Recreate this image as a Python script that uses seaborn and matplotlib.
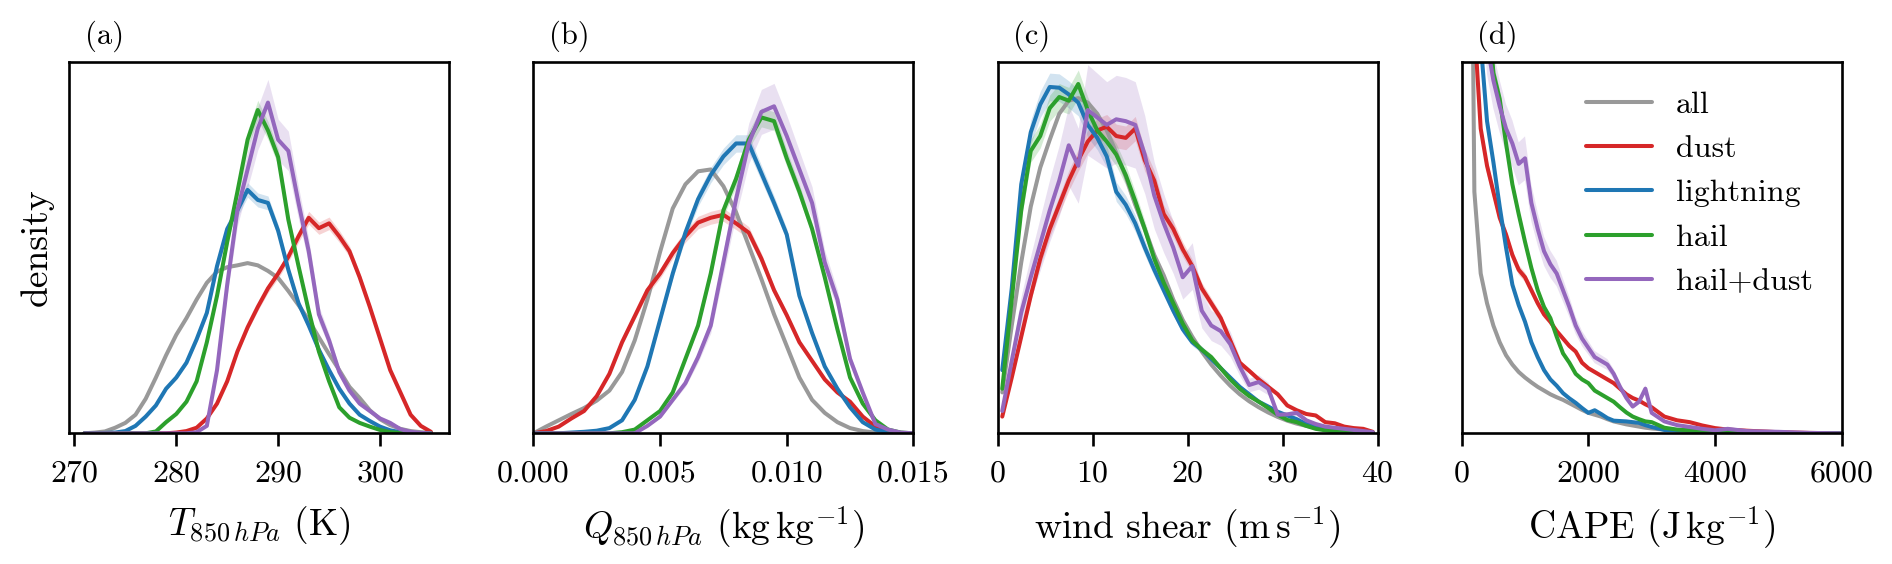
import numpy as np
import pandas as pd
import matplotlib
matplotlib.use("Agg")
import matplotlib.pyplot as plt
import seaborn as sns

# ---------------- data ----------------
series = ["all", "dust", "lightning", "hail", "hail+dust"]
colors = ["#999999", "#d62728", "#1f77b4", "#2ca02c", "#9467bd"]

# (a) T850 hPa (K)
t_grid = list(range(271, 306))
all_a = [0.0, 0.002, 0.005, 0.015, 0.028, 0.05, 0.093, 0.15, 0.21, 0.265, 0.31, 0.36, 0.405, 0.435,
         0.447, 0.452, 0.458, 0.452, 0.437, 0.418, 0.383, 0.345, 0.305, 0.258, 0.213, 0.17, 0.125,
         0.095, 0.062, 0.038, 0.022, 0.012, 0.006, 0.003, 0.001]
dust_a = [0, 0, 0, 0, 0, 0, 0, 0, 0, 0.002, 0.006, 0.015, 0.04, 0.08, 0.14, 0.22, 0.285, 0.34, 0.39,
          0.43, 0.475, 0.53, 0.58, 0.552, 0.565, 0.53, 0.49, 0.42, 0.34, 0.255, 0.17, 0.11, 0.05,
          0.02, 0.004]
lightning_a = [0, 0, 0.001, 0.002, 0.006, 0.02, 0.045, 0.075, 0.12, 0.15, 0.19, 0.253, 0.324, 0.45,
               0.55, 0.6, 0.655, 0.628, 0.62, 0.545, 0.44, 0.35, 0.29, 0.225, 0.17, 0.12, 0.08, 0.05,
               0.033, 0.018, 0.008, 0.003, 0.001, 0, 0]
hail_a = [0, 0, 0, 0, 0, 0, 0, 0.005, 0.03, 0.052, 0.085, 0.14, 0.245, 0.37, 0.515, 0.65, 0.79, 0.87,
          0.815, 0.743, 0.575, 0.45, 0.33, 0.22, 0.14, 0.07, 0.042, 0.028, 0.018, 0.009, 0.003, 0.001,
          0, 0, 0]
haildust_a = [0, 0, 0, 0, 0, 0, 0, 0, 0, 0, 0, 0.003, 0.02, 0.17, 0.40, 0.60, 0.71, 0.82, 0.89, 0.79,
              0.76, 0.62, 0.49, 0.32, 0.25, 0.165, 0.115, 0.08, 0.06, 0.04, 0.028, 0.011, 0.004,
              0.001, 0]
band_a = [0.0, 0.03, 0.03, 0.03, 0.07]

# (b) Q850 hPa (kg/kg)
q_grid = [0.0, 0.0005, 0.001, 0.0015, 0.002, 0.0025, 0.003, 0.0035, 0.004, 0.0045, 0.005, 0.0055,
          0.006, 0.0065, 0.007, 0.0075, 0.008, 0.0085, 0.009, 0.0095, 0.010, 0.0105, 0.011, 0.0115,
          0.012, 0.0125, 0.013, 0.0135, 0.014, 0.0145, 0.015]
all_b = [0, 0.018, 0.035, 0.052, 0.068, 0.088, 0.115, 0.165, 0.25, 0.36, 0.488, 0.605, 0.67, 0.705,
         0.71, 0.665, 0.595, 0.505, 0.415, 0.32, 0.235, 0.15, 0.09, 0.055, 0.03, 0.014, 0.006, 0.002,
         0, 0, 0]
dust_b = [0, 0.006, 0.018, 0.04, 0.06, 0.1, 0.16, 0.245, 0.315, 0.385, 0.43, 0.485, 0.53, 0.567, 0.58,
          0.588, 0.565, 0.54, 0.47, 0.385, 0.318, 0.245, 0.195, 0.145, 0.11, 0.085, 0.045, 0.018,
          0.005, 0.001, 0]
lightning_b = [0, 0, 0, 0.002, 0.004, 0.007, 0.014, 0.035, 0.09, 0.18, 0.305, 0.43, 0.54, 0.63, 0.695,
               0.745, 0.78, 0.78, 0.7, 0.62, 0.535, 0.37, 0.27, 0.18, 0.12, 0.07, 0.03, 0.01, 0.003,
               0, 0]
hail_b = [0, 0, 0, 0, 0, 0, 0, 0.003, 0.01, 0.035, 0.06, 0.11, 0.2, 0.29, 0.43, 0.6, 0.685, 0.79, 0.85,
          0.84, 0.74, 0.65, 0.55, 0.42, 0.28, 0.15, 0.08, 0.035, 0.01, 0.002, 0]
haildust_b = [0, 0, 0, 0, 0, 0, 0, 0, 0, 0.02, 0.045, 0.09, 0.135, 0.205, 0.29, 0.46, 0.63, 0.78,
              0.865, 0.88, 0.8, 0.71, 0.62, 0.46, 0.36, 0.2, 0.11, 0.025, 0.01, 0.002, 0]
band_b = [0.0, 0.03, 0.03, 0.03, 0.07]

# (c) wind shear (m/s)
w_grid = [0.5, 1.5, 2.5, 3.5, 4.5, 5.5, 6.5, 7.5, 8.5, 9.5, 10.5, 11.5, 12.5, 13.5, 14.5, 15.5, 16.5,
          17.5, 18.5, 19.5, 20.5, 21.5, 22.5, 23.5, 24.5, 25.5, 26.5, 27.5, 28.5, 29.5, 30.5, 31.5,
          32.5, 33.5, 34.5, 35.5, 36.5, 37.5, 38.5, 39.5]
all_c = [0.11, 0.29, 0.46, 0.61, 0.715, 0.79, 0.86, 0.895, 0.902, 0.89, 0.86, 0.815, 0.755, 0.69,
         0.615, 0.55, 0.48, 0.425, 0.36, 0.305, 0.26, 0.22, 0.185, 0.155, 0.128, 0.105, 0.086, 0.07,
         0.056, 0.044, 0.034, 0.026, 0.02, 0.015, 0.011, 0.008, 0.006, 0.004, 0.003, 0.002]
dust_c = [0.045, 0.15, 0.26, 0.37, 0.47, 0.55, 0.615, 0.68, 0.735, 0.785, 0.815, 0.825, 0.8, 0.795,
          0.82, 0.735, 0.68, 0.59, 0.55, 0.495, 0.45, 0.39, 0.35, 0.31, 0.25, 0.19, 0.168, 0.145,
          0.125, 0.105, 0.075, 0.062, 0.052, 0.048, 0.03, 0.027, 0.018, 0.014, 0.012, 0.004]
lightning_c = [0.17, 0.39, 0.67, 0.81, 0.885, 0.932, 0.93, 0.912, 0.89, 0.83, 0.795, 0.745, 0.65,
               0.615, 0.565, 0.5, 0.44, 0.385, 0.33, 0.28, 0.245, 0.225, 0.2, 0.175, 0.15, 0.125,
               0.105, 0.085, 0.072, 0.058, 0.048, 0.038, 0.025, 0.02, 0.015, 0.01, 0.007, 0.004,
               0.003, 0.002]
hail_c = [0.12, 0.36, 0.6, 0.76, 0.8, 0.875, 0.905, 0.895, 0.94, 0.87, 0.815, 0.785, 0.75, 0.695,
          0.625, 0.55, 0.47, 0.405, 0.35, 0.295, 0.25, 0.225, 0.205, 0.175, 0.145, 0.12, 0.1, 0.085,
          0.068, 0.05, 0.036, 0.03, 0.02, 0.012, 0.008, 0.005, 0.003, 0.002, 0.001, 0.001]
haildust_c = [0.06, 0.195, 0.325, 0.42, 0.51, 0.6, 0.68, 0.775, 0.72, 0.87, 0.85, 0.83, 0.845, 0.84,
              0.83, 0.75, 0.64, 0.565, 0.5, 0.42, 0.45, 0.33, 0.29, 0.275, 0.24, 0.18, 0.13, 0.138,
              0.12, 0.05, 0.051, 0.055, 0.035, 0.025, 0.018, 0.015, 0.012, 0.009, 0.006, 0.003]
band_c = [0.0, 0.04, 0.04, 0.04, 0.14]

# (d) CAPE (J/kg)
c_grid = [100, 200, 300, 400, 500, 600, 700, 800, 900, 1000, 1100, 1200, 1300, 1400, 1500, 1600,
          1700, 1800, 1900, 2000, 2100, 2200, 2300, 2400, 2500, 2600, 2700, 2800, 2900, 3000, 3200,
          3400, 3600, 3800, 4000, 4200, 4500, 5000, 5500, 6000]
all_d = [2.5, 0.65, 0.43, 0.35, 0.29, 0.245, 0.21, 0.185, 0.165, 0.15, 0.137, 0.125, 0.115, 0.105,
         0.097, 0.09, 0.081, 0.072, 0.063, 0.055, 0.05, 0.045, 0.038, 0.032, 0.028, 0.024, 0.021,
         0.018, 0.015, 0.013, 0.01, 0.008, 0.006, 0.004, 0.003, 0.002, 0.002, 0.001, 0.0005, 0]
dust_d = [3.0, 1.1, 0.82, 0.72, 0.65, 0.58, 0.535, 0.48, 0.44, 0.42, 0.385, 0.35, 0.32, 0.3, 0.275,
          0.255, 0.235, 0.22, 0.19, 0.175, 0.165, 0.155, 0.145, 0.135, 0.12, 0.105, 0.095, 0.088,
          0.078, 0.07, 0.045, 0.035, 0.03, 0.021, 0.014, 0.01, 0.007, 0.003, 0.001, 0]
lightning_d = [3.5, 1.6, 1.05, 0.84, 0.73, 0.61, 0.5, 0.4, 0.345, 0.3, 0.245, 0.205, 0.17, 0.145,
               0.128, 0.108, 0.094, 0.082, 0.068, 0.055, 0.062, 0.052, 0.041, 0.034, 0.033, 0.032,
               0.03, 0.028, 0.022, 0.017, 0.009, 0.008, 0.008, 0.005, 0.003, 0.002, 0.001, 0.0005,
               0, 0]
hail_d = [5.0, 2.5, 1.6, 1.2, 0.97, 0.9, 0.78, 0.67, 0.59, 0.515, 0.445, 0.385, 0.34, 0.31, 0.26,
          0.215, 0.19, 0.16, 0.145, 0.135, 0.115, 0.105, 0.095, 0.085, 0.07, 0.056, 0.045, 0.038,
          0.032, 0.03, 0.015, 0.01, 0.008, 0.005, 0.003, 0.002, 0.001, 0, 0, 0]
haildust_d = [5.0, 2.0, 1.3, 1.05, 0.95, 0.88, 0.82, 0.78, 0.725, 0.74, 0.62, 0.55, 0.49, 0.455, 0.43,
              0.385, 0.34, 0.29, 0.255, 0.23, 0.205, 0.195, 0.185, 0.16, 0.125, 0.095, 0.072, 0.085,
              0.12, 0.055, 0.032, 0.022, 0.017, 0.012, 0.008, 0.012, 0.006, 0.004, 0.001, 0]
band_d = [0.0, 0.03, 0.03, 0.03, 0.08]

panels = [
    ("(a)", t_grid, [all_a, dust_a, lightning_a, hail_a, haildust_a], band_a,
     r"$T_{850\,hPa}$ (K)", (269.5, 306.8), [270, 280, 290, 300]),
    ("(b)", q_grid, [all_b, dust_b, lightning_b, hail_b, haildust_b], band_b,
     r"$Q_{850\,hPa}$ ($\mathrm{kg\,kg^{-1}}$)", (0, 0.015), [0.0, 0.005, 0.010, 0.015]),
    ("(c)", w_grid, [all_c, dust_c, lightning_c, hail_c, haildust_c], band_c,
     r"wind shear ($\mathrm{m\,s^{-1}}$)", (0, 40), [0, 10, 20, 30, 40]),
    ("(d)", c_grid, [all_d, dust_d, lightning_d, hail_d, haildust_d], band_d,
     r"CAPE ($\mathrm{J\,kg^{-1}}$)", (0, 6000), [0, 2000, 4000, 6000]),
]

# ---------------- style ----------------
sns.set_style("ticks")
plt.rcParams.update({
    "font.family": "serif",
    "font.serif": ["cmr10", "DejaVu Serif"],
    "mathtext.fontset": "cm",
    "axes.formatter.use_mathtext": True,
    "axes.unicode_minus": False,
    "axes.edgecolor": "black",
    "axes.linewidth": 1.9,
    "text.color": "black",
    "axes.labelcolor": "black",
    "xtick.color": "black",
    "xtick.major.width": 1.9,
    "xtick.major.size": 9,
    "xtick.major.pad": 10,
    "xtick.labelsize": 23,
    "axes.labelsize": 27,
})

W, H = 1892, 564
fig = plt.figure(figsize=(W / 100, H / 100), dpi=100)
lefts_px = [69.3, 533.4, 997.5, 1461.7]
ax_w, ax_b, ax_h = 380, 130.7, 371.6

for i, (tag, xg, ys, band, xlabel, xlim, xticks) in enumerate(panels):
    ax = fig.add_axes([lefts_px[i] / W, ax_b / H, ax_w / W, ax_h / H])
    xg_arr = np.asarray(xg, dtype=float)
    for y, b, c in zip(ys, band, colors):
        y = np.asarray(y, dtype=float)
        if b > 0:
            ax.fill_between(xg_arr, y * (1 - b), y * (1 + b), color=c, alpha=0.2, lw=0)
    df = pd.DataFrame({
        "x": np.tile(xg_arr, len(series)),
        "y": np.concatenate([np.asarray(y, dtype=float) for y in ys]),
        "label": np.repeat(series, len(xg_arr)),
    })
    sns.lineplot(data=df, x="x", y="y", hue="label", hue_order=series, palette=colors,
                 ax=ax, lw=2.9, errorbar=None, legend=(i == 3))
    ax.set_xlim(*xlim)
    ax.set_ylim(0, 1)
    ax.set_xticks(xticks)
    if i == 1:
        ax.set_xticklabels(["0.000", "0.005", "0.010", "0.015"])
    ax.set_yticks([])
    ax.set_xlabel(xlabel, labelpad=12)
    ax.set_ylabel("density" if i == 0 else "", labelpad=11)
    ax.text(0.041, 1.048, tag, transform=ax.transAxes, fontsize=22, va="baseline", ha="left")
    for s in ax.spines.values():
        s.set_visible(True)
    if i == 3:
        handles, labels = ax.get_legend_handles_labels()
        ax.legend(handles, labels, loc="upper right", frameon=False, fontsize=23,
                  handlelength=2.08, handletextpad=0.75, labelspacing=0.5)

fig.savefig("out.png", dpi=100)
